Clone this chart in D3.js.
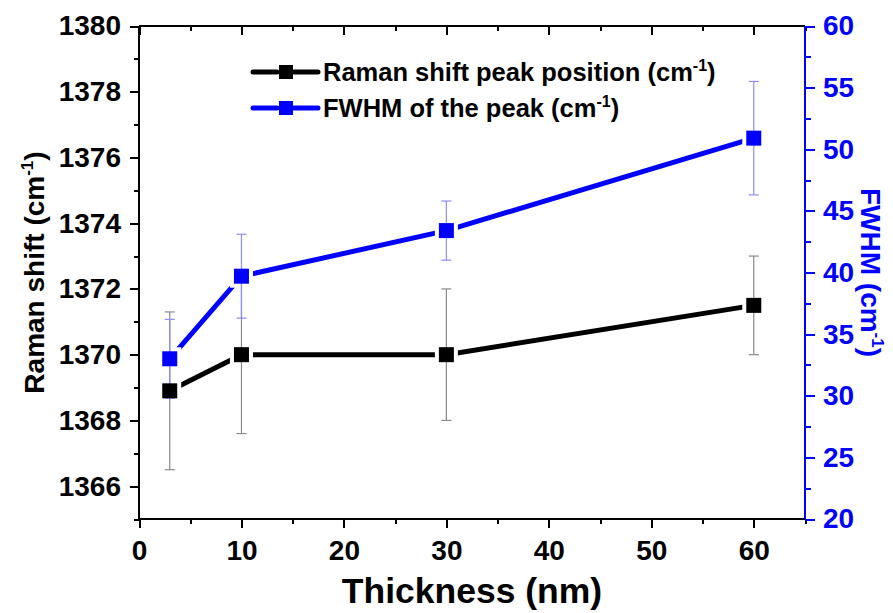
<!DOCTYPE html>
<html lang="en">
<head>
  <meta charset="UTF-8">
  <title>Raman shift and FWHM vs thickness</title>
  <style>
    html, body { margin: 0; background: #fff; }
    text { font-family: 'Liberation Sans', Arial, sans-serif; font-weight: bold; }
    .axis path, .axis line { shape-rendering: crispEdges; }
  </style>
</head>
<body>
<svg id="chart" width="893" height="613" viewBox="0 0 893 613"></svg>

<script src="https://d3js.org/d3.v7.min.js"></script>
<script>

const thickness = [3, 10, 30, 60];
const ramanShift = [1368.9, 1370.0, 1370.0, 1371.5];
const ramanErr = [2.4, 2.4, 2.0, 1.5];
const fwhm = [33.0, 39.7, 43.4, 50.9];
const fwhmErr = [3.2, 3.4, 2.4, 4.6];

const xTicks = [0, 10, 20, 30, 40, 50, 60];
const yLeftTicks = [1366, 1368, 1370, 1372, 1374, 1376, 1378, 1380];
const yRightTicks = [20, 25, 30, 35, 40, 45, 50, 55, 60];

const seriesNames = ["Raman shift peak position (cm", "FWHM of the peak (cm"];

const BLUE = "#0000ff";

const svg = d3.select("#chart"),
    margin = {top: 26, right: 88, bottom: 94, left: 139},
    width = +svg.attr("width") - margin.left - margin.right,
    height = +svg.attr("height") - margin.top - margin.bottom;

const x = d3.scaleLinear().domain([0, 65]).range([0, width]);
const yL = d3.scaleLinear().domain([1365, 1380]).range([height, 0]);
const yR = d3.scaleLinear().domain([20, 60]).range([height, 0]);

const g = svg.append("g")
    .attr("transform", "translate(" + margin.left + "," + margin.top + ")");

const ramanData = thickness.map((t, i) => ({x: t, y: ramanShift[i], e: ramanErr[i]}));
const fwhmData = thickness.map((t, i) => ({x: t, y: fwhm[i], e: fwhmErr[i]}));

function minorTicks(lo, hi, step, majors) {
  const out = [];
  for (let v = lo; v <= hi + 1e-9; v += step) {
    if (!majors.some(m => Math.abs(m - v) < 1e-6)) out.push(+v.toFixed(4));
  }
  return out;
}

// axes
function styleAxis(sel, color, fontSize) {
  sel.select(".domain").remove();
  sel.selectAll("line").attr("stroke", color).attr("stroke-width", 2);
  sel.selectAll("text").attr("fill", color).style("font-size", fontSize + "px");
}

const gx = g.append("g").attr("class", "axis").attr("transform", "translate(0," + height + ")")
    .call(d3.axisBottom(x).tickValues(xTicks).tickSizeInner(9).tickSizeOuter(0).tickPadding(12));
styleAxis(gx, "#000", 28);
g.append("g").attr("class", "axis").attr("transform", "translate(0," + height + ")")
    .call(d3.axisBottom(x).tickValues(minorTicks(0, 65, 5, xTicks)).tickSize(5).tickFormat(""))
    .call(s => styleAxis(s, "#000", 28));

g.append("g").attr("class", "axis")
    .call(d3.axisTop(x).tickValues(xTicks).tickSize(-9).tickFormat(""))
    .call(s => styleAxis(s, "#000", 28));
g.append("g").attr("class", "axis")
    .call(d3.axisTop(x).tickValues(minorTicks(0, 65, 5, xTicks)).tickSize(-5).tickFormat(""))
    .call(s => styleAxis(s, "#000", 28));

const gyl = g.append("g").attr("class", "axis")
    .call(d3.axisLeft(yL).tickValues(yLeftTicks).tickSizeInner(9).tickSizeOuter(0).tickPadding(9).tickFormat(d3.format("d")));
styleAxis(gyl, "#000", 28);
g.append("g").attr("class", "axis")
    .call(d3.axisLeft(yL).tickValues(minorTicks(1365, 1380, 1, yLeftTicks)).tickSize(5).tickFormat(""))
    .call(s => styleAxis(s, "#000", 28));

const gyr = g.append("g").attr("class", "axis").attr("transform", "translate(" + width + ",0)")
    .call(d3.axisRight(yR).tickValues(yRightTicks).tickSizeInner(10).tickSizeOuter(0).tickPadding(8));
styleAxis(gyr, BLUE, 28);
g.append("g").attr("class", "axis").attr("transform", "translate(" + width + ",0)")
    .call(d3.axisRight(yR).tickValues(minorTicks(20, 60, 2.5, yRightTicks)).tickSize(6).tickFormat(""))
    .call(s => styleAxis(s, BLUE, 28));

// frame lines
g.append("line").attr("x1", 0).attr("x2", width).attr("y1", height).attr("y2", height)
    .attr("stroke", "#000").attr("stroke-width", 2);
g.append("line").attr("x1", 0).attr("x2", width).attr("y1", 0).attr("y2", 0)
    .attr("stroke", "#000").attr("stroke-width", 2);
g.append("line").attr("x1", 0).attr("x2", 0).attr("y1", 0).attr("y2", height)
    .attr("stroke", "#000").attr("stroke-width", 2);
g.append("line").attr("x1", width).attr("x2", width).attr("y1", 0).attr("y2", height)
    .attr("stroke", BLUE).attr("stroke-width", 2);

// series
const series = [
  {data: ramanData, y: yL, color: "#000", err: "#8a8a8a"},
  {data: fwhmData, y: yR, color: BLUE, err: "#8c8cff"}
];

const size = 15;

series.forEach(s => {
  g.append("path")
      .datum(s.data)
      .attr("fill", "none")
      .attr("stroke", s.color)
      .attr("stroke-width", 5)
      .attr("d", d3.line().x(d => x(d.x)).y(d => s.y(d.y)));
});

series.forEach(s => {
  g.selectAll(null).data(s.data).enter().append("rect")
      .attr("x", d => x(d.x) - size / 2 - 4)
      .attr("y", d => s.y(d.y) - size / 2 - 4)
      .attr("width", size + 8)
      .attr("height", size + 8)
      .attr("fill", "#fff");
});

series.forEach(s => {
  const eb = g.append("g").attr("stroke", s.err).attr("stroke-width", 1.2);
  eb.selectAll(".bar").data(s.data).enter().append("line")
      .attr("x1", d => x(d.x)).attr("x2", d => x(d.x))
      .attr("y1", d => s.y(d.y + d.e)).attr("y2", d => s.y(d.y - d.e));
  eb.selectAll(".capt").data(s.data).enter().append("line")
      .attr("x1", d => x(d.x) - 5).attr("x2", d => x(d.x) + 5)
      .attr("y1", d => s.y(d.y + d.e)).attr("y2", d => s.y(d.y + d.e));
  eb.selectAll(".capb").data(s.data).enter().append("line")
      .attr("x1", d => x(d.x) - 5).attr("x2", d => x(d.x) + 5)
      .attr("y1", d => s.y(d.y - d.e)).attr("y2", d => s.y(d.y - d.e));
});

series.forEach(s => {
  g.selectAll(null).data(s.data).enter().append("rect")
      .attr("x", d => x(d.x) - size / 2)
      .attr("y", d => s.y(d.y) - size / 2)
      .attr("width", size)
      .attr("height", size)
      .attr("fill", s.color);
});

// legend
const legend = svg.append("g").attr("transform", "translate(253,0)");
[72, 108].forEach((ly, i) => {
  const c = series[i].color;
  legend.append("line").attr("x1", 0).attr("x2", 24).attr("y1", ly).attr("y2", ly)
      .attr("stroke", c).attr("stroke-width", 5).attr("stroke-linecap", "round");
  legend.append("line").attr("x1", 41).attr("x2", 65).attr("y1", ly).attr("y2", ly)
      .attr("stroke", c).attr("stroke-width", 5).attr("stroke-linecap", "round");
  legend.append("rect").attr("x", 26).attr("y", ly - 7).attr("width", 14).attr("height", 14).attr("fill", c);
  const t = legend.append("text").attr("x", 70).attr("y", ly + 9)
      .style("font-size", "25.5px").attr("fill", "#000");
  t.append("tspan").text(seriesNames[i]);
  t.append("tspan").text("-1").style("font-size", "16px").attr("dy", -10);
  t.append("tspan").text(")").attr("dy", 10);
});

// axis titles
svg.append("text")
    .attr("x", margin.left + width / 2).attr("y", 603)
    .attr("text-anchor", "middle")
    .style("font-size", "35.5px")
    .text("Thickness (nm)");

const yt = svg.append("text")
    .attr("transform", "translate(44," + (margin.top + height / 2) + ") rotate(-90)")
    .attr("text-anchor", "middle")
    .style("font-size", "28px");
yt.append("tspan").text("Raman shift (cm");
yt.append("tspan").text("-1").style("font-size", "17px").attr("dy", -11);
yt.append("tspan").text(")").attr("dy", 11);

const yt2 = svg.append("text")
    .attr("transform", "translate(861," + (margin.top + height / 2) + ") rotate(90)")
    .attr("text-anchor", "middle")
    .attr("fill", BLUE)
    .style("font-size", "28px");
yt2.append("tspan").text("FWHM (cm");
yt2.append("tspan").text("-1").style("font-size", "17px").attr("dy", -11);
yt2.append("tspan").text(")").attr("dy", 11);

</script>
</body>
</html>
